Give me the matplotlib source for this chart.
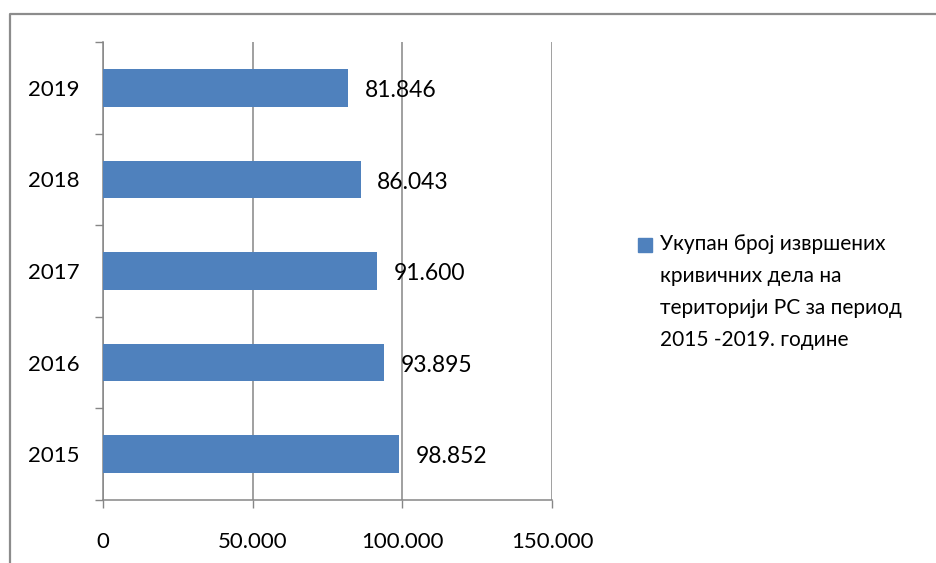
import matplotlib.pyplot as plt
from matplotlib.lines import Line2D
from matplotlib.patches import Rectangle

# ===== Data =====
YEARS = ["2015", "2016", "2017", "2018", "2019"]
CRIMES = [98852, 93895, 91600, 86043, 81846]
X_TICKS = [0, 50000, 100000, 150000]
LEGEND_LABEL = "Укупан број извршених\nкривичних дела на\nтериторији РС за период\n2015 -2019. године"

BAR_COLOR = "#4F81BD"
GRID_COLOR = "#868686"
FONT = ["Lato", "Open Sans", "DejaVu Sans"]


def fmt_thousands(v):
    # Serbian style: dot as thousands separator
    return f"{v:,}".replace(",", ".")


plt.rcParams["font.family"] = FONT

fig = plt.figure(figsize=(9.36, 5.63), dpi=100)
ax = fig.add_axes([103 / 936, 1 - 500 / 563, 449 / 936, 458 / 563])

pos = list(range(len(YEARS)))
ax.barh(pos, CRIMES, height=0.41, color=BAR_COLOR, zorder=3)

for p, v in zip(pos, CRIMES):
    ax.annotate(fmt_thousands(v), xy=(v, p), xytext=(12, -2), textcoords="offset points",
                va="center", ha="left", fontsize=16.5, color="black", zorder=4)

ax.set_xlim(0, 150000)
ax.set_ylim(-0.5, len(YEARS) - 0.5)

# x axis
ax.set_xticks(X_TICKS)
ax.set_xticklabels([fmt_thousands(t) for t in X_TICKS])
ax.tick_params(axis="x", direction="out", length=6, width=1, color=GRID_COLOR,
               pad=17, labelsize=16)
ax.grid(axis="x", color=GRID_COLOR, linewidth=1.1, zorder=0)

# y axis: tick marks at category boundaries, labels at centers
ax.set_yticks([p - 0.5 for p in pos] + [pos[-1] + 0.5])
ax.set_yticklabels([])
ax.set_yticks(pos, minor=True)
ax.set_yticklabels(YEARS, minor=True)
ax.tick_params(axis="y", which="major", direction="out", length=6, width=1, color=GRID_COLOR)
ax.tick_params(axis="y", which="minor", length=0, pad=17, labelsize=16)

for side in ["top", "right"]:
    ax.spines[side].set_visible(False)
for side in ["left", "bottom"]:
    ax.spines[side].set_color(GRID_COLOR)
    ax.spines[side].set_linewidth(1.1)

# legend (marker aligned to first line, as in the original)
fig.patches.append(Rectangle((638 / 936, 1 - 252 / 563), 14 / 936, 14 / 563,
                             transform=fig.transFigure, color=BAR_COLOR))
fig.text(660 / 936, 1 - 234 / 563, LEGEND_LABEL, ha="left", va="top",
         fontsize=15, linespacing=1.75, color="black")

# outer chart border (clipped on right and bottom)
fig.lines.append(Line2D([9.5 / 936, 9.5 / 936, 1.0], [0.0, 1 - 14 / 563, 1 - 14 / 563],
                        transform=fig.transFigure, color="#8C8C8C", linewidth=1.6))

fig.savefig("out.png", dpi=100)
